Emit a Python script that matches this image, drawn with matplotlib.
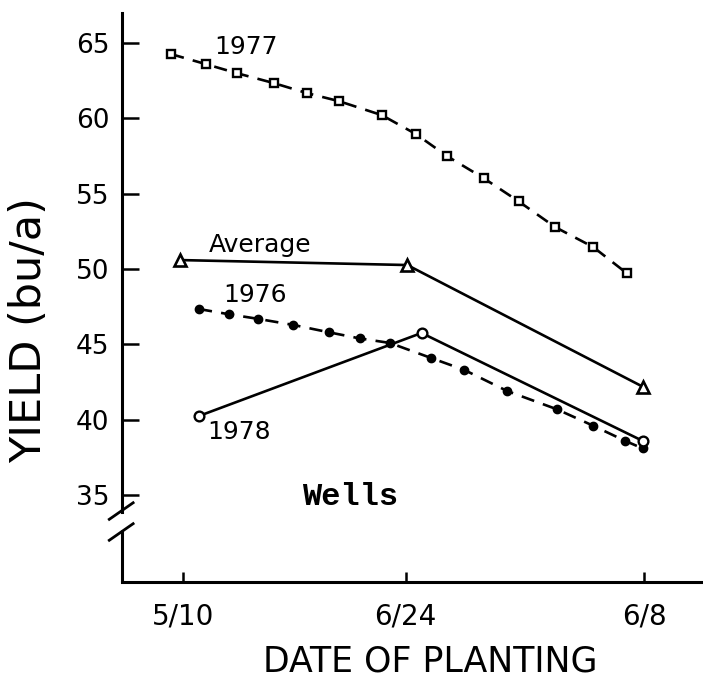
"""Yield vs date of planting at Wells, replotted from a scanned figure"""
from matplotlib import pyplot as plt

# ===== data (x in days after 5/10) =====
days_1977 = [-0.75, 1.45, 3.4, 5.7, 7.8, 9.8, 12.5, 14.65, 16.6, 18.9, 21.1, 23.4, 25.8, 27.9]
yield_1977 = [64.27, 63.6, 63.0, 62.35, 61.68, 61.15, 60.22, 58.96, 57.5, 56.04, 54.5, 52.79, 51.46, 49.73]

days_1976 = [1.0, 2.9, 4.7, 6.9, 9.2, 11.1, 13.0, 15.6, 17.7, 20.4, 23.5, 25.8, 27.8, 28.9]
yield_1976 = [47.35, 47.0, 46.7, 46.3, 45.8, 45.4, 45.1, 44.1, 43.3, 41.9, 40.7, 39.6, 38.6, 38.1]

days_1978 = [1.0, 15.0, 28.9]
yield_1978 = [40.25, 45.76, 38.6]

days_avg = [-0.2, 14.1, 28.9]
yield_avg = [50.6, 50.27, 42.2]

tick_days = [0, 14, 29]
tick_labels = ['5/10', '6/24', '6/8']
yticks = [35, 40, 45, 50, 55, 60, 65]

if __name__ == '__main__':
    fig = plt.figure(figsize=(7.03, 6.78), dpi=100)
    ax = fig.add_axes([122 / 703, 1 - 582 / 678, 1 - 122 / 703, (582 - 13) / 678])
    ax.set_xlim(-3.84, 32.7)
    ax.set_ylim(29.23, 67.0)

    lw = 1.9
    ax.plot(days_1977, yield_1977, color='black', lw=lw, linestyle=(0, (5, 3.5)),
            marker='s', markersize=6, markerfacecolor='white', markeredgewidth=1.7)
    ax.plot(days_1976, yield_1976, color='black', lw=lw, linestyle=(0, (5, 3.5)),
            marker='o', markersize=6, markerfacecolor='black')
    ax.plot(days_1978, yield_1978, color='black', lw=lw, linestyle='-',
            marker='o', markersize=7, markerfacecolor='white', markeredgewidth=1.7)
    ax.plot(days_avg, yield_avg, color='black', lw=lw, linestyle='-',
            marker='^', markersize=9, markerfacecolor='white', markeredgewidth=1.9)

    # labels inside the plot
    lab = dict(fontsize=18, ha='center', va='center', family='DejaVu Sans')
    ax.text(3.96, 64.73, '1977', **lab)
    ax.text(4.84, 51.6, 'Average', **lab)
    ax.text(4.5, 48.28, '1976', **lab)
    ax.text(3.5, 39.19, '1978', **lab)
    ax.text(10.5, 34.87, 'Wells', fontsize=23, fontweight='bold', ha='center', va='center',
            family='Liberation Mono')

    # axes: only left and bottom, left one broken
    for side in ['top', 'right']:
        ax.spines[side].set_visible(False)
    ax.spines['bottom'].set_linewidth(2.2)
    ax.spines['left'].set_linewidth(2.2)
    ax.spines['left'].set_bounds(33.9, 67.0)
    ax.plot([-3.84, -3.84], [29.23, 32.7], color='black', lw=2.2, clip_on=False,
            solid_capstyle='butt')
    for yb in [33.94, 32.55]:
        ax.plot([-3.84 - 0.8, -3.84 + 0.7], [yb - 0.55, yb + 0.55], color='black', lw=2.0,
                clip_on=False)

    ax.set_xticks(tick_days)
    ax.set_xticklabels(tick_labels)
    ax.set_yticks(yticks)
    ax.tick_params(axis='y', direction='in', length=12, width=1.8, pad=9, labelsize=19)
    ax.tick_params(axis='x', direction='in', length=7, width=1.8, pad=15, labelsize=20)

    fig.text(29 / 703, 1 - 330 / 678, 'YIELD (bu/a)', rotation=90, fontsize=31,
             ha='center', va='center')
    fig.text(430 / 703, 1 - 661 / 678, 'DATE OF PLANTING', fontsize=25,
             ha='center', va='center')

    fig.savefig('out.png', dpi=100)
